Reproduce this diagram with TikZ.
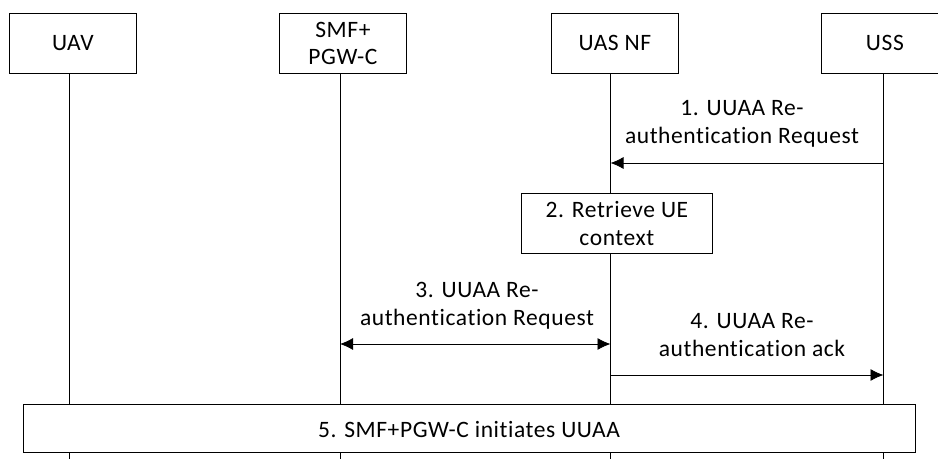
\documentclass[tikz,border=0pt]{standalone}
\usepackage{fontspec}
\setmainfont{Carlito}[Ligatures=NoCommon, LetterSpace=2.5]
\usetikzlibrary{arrows.meta}
\begin{document}
\begin{tikzpicture}[x=1pt,y=-1pt,
  font=\fontsize{23.5}{27.5}\selectfont,
  every path/.style={line width=0.8pt},
  actor/.style={draw, line width=0.8pt, minimum width=127pt, minimum height=60pt, align=center, inner sep=0pt, anchor=north west},
  stepbox/.style={draw, fill=white, line width=0.8pt, align=center, inner sep=0pt, anchor=north west},
  msg/.style={align=center, inner sep=0pt},
  tip/.style={Latex[length=13pt,width=12pt]}]
\useasboundingbox (0,0) rectangle (938,459);
% actors
\node[actor] (uav) at (9,13) {UAV};
\node[actor] (smf) at (279,13) {SMF+\\PGW-C};
\node[actor] (uas) at (551,13) {UAS NF};
\node[actor] (uss) at (821,13) {USS};
% lifelines
\foreach \n/\x in {a/69,b/340,c/610.5,d/883.5}{
  \coordinate (\n top) at (\x,73);
  \coordinate (\n bot) at (\x,459);
  \draw (\n top) -- (\n bot);
}
% step 1
\coordinate (m1s) at (883.5,163);
\coordinate (m1e) at (610.5,163);
\draw[-{Latex[length=13pt,width=12pt]}] (m1s) -- (m1e);
\node[msg] (l1) at (742,124) {1. UUAA Re-\\authentication Request};
% step 2
\node[stepbox, minimum width=191pt, minimum height=60pt] (s2) at (521,193) {2. Retrieve UE\\context};
% step 3
\coordinate (m3s) at (340,344);
\coordinate (m3e) at (610.5,344);
\draw[{Latex[length=13pt,width=12pt]}-{Latex[length=13pt,width=12pt]}] (m3s) -- (m3e);
\node[msg] (l3) at (477,306) {3. UUAA Re-\\authentication Request};
% step 4
\coordinate (m4s) at (610.5,375);
\coordinate (m4e) at (883.5,375);
\draw[-{Latex[length=13pt,width=12pt]}] (m4s) -- (m4e);
\node[msg] (l4) at (752,335) {4. UUAA Re-\\authentication ack};
% step 5
\node[stepbox, minimum width=892pt, minimum height=48pt] (s5) at (23,404) {};
\node[msg] (l5) at (469,429) {5. SMF+PGW-C initiates UUAA};
\end{tikzpicture}
\end{document}
